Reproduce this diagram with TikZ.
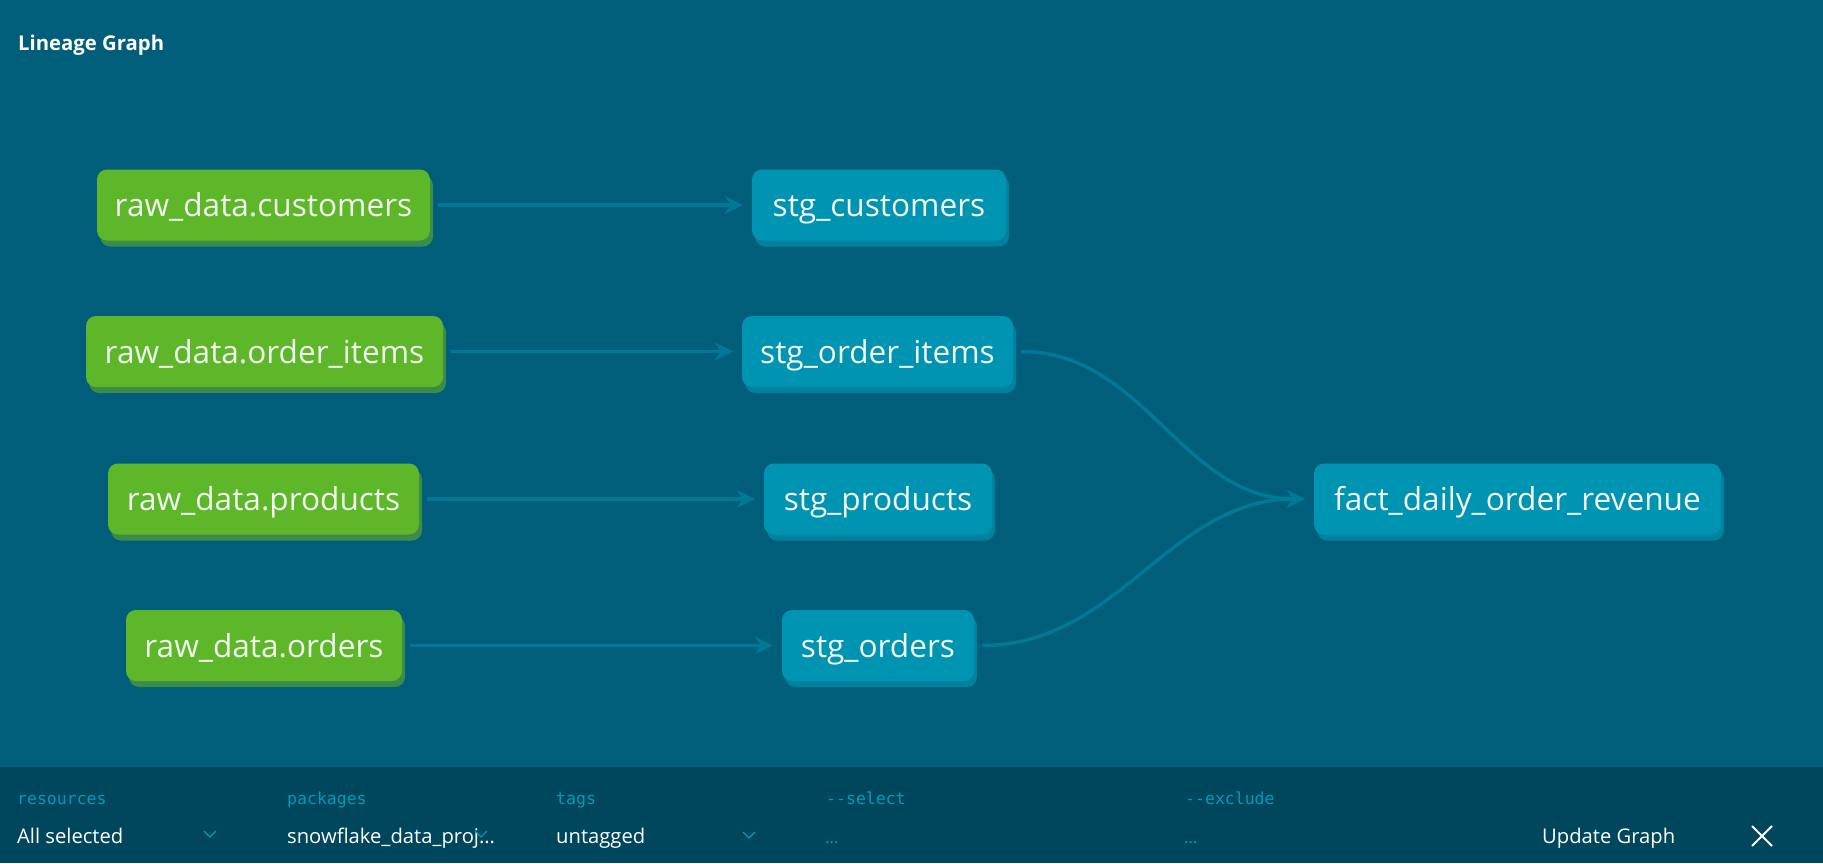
\documentclass[tikz,border=0pt]{standalone}
\usepackage{fontspec}
\setmainfont{Open Sans}
\setmonofont{DejaVu Sans Mono}
\usetikzlibrary{positioning, calc}
\usetikzlibrary{arrows.meta}
\usetikzlibrary{shadows}

\definecolor{bgteal}{HTML}{005E7A}
\definecolor{bardark}{HTML}{00475D}
\definecolor{srcgreen}{HTML}{5EB729}
\definecolor{srcshade}{HTML}{3B8B4A}
\definecolor{mdlblue}{HTML}{0094B3}
\definecolor{mdlshade}{HTML}{00819E}
\definecolor{edgeteal}{HTML}{007898}
\definecolor{lblteal}{HTML}{009BBA}
\definecolor{nodetext}{HTML}{F0F5EF}

\tikzset{
  basenode/.style={rounded corners=10pt, text=nodetext, inner sep=0pt,
    minimum height=71pt, text height=23pt, text depth=0pt,
    font=\fontsize{31.6}{38}\selectfont},
  srcnode/.style={basenode, fill=srcgreen, minimum width=#1,
    general shadow={fill=srcshade, shadow xshift=3pt, shadow yshift=-6pt}},
  mdlnode/.style={basenode, fill=mdlblue, minimum width=#1,
    general shadow={fill=mdlshade, shadow xshift=3pt, shadow yshift=-6pt}},
  edge/.style={draw=edgeteal, line width=3.5pt,
    -{Stealth[length=18pt, width=18pt, inset=6pt]},
    shorten <=8pt, shorten >=9pt},
  barlabel/.style={anchor=base west, inner sep=0pt, text=lblteal,
    font=\ttfamily\fontsize{16.5}{19}\selectfont},
  barvalue/.style={anchor=base west, inner sep=0pt, text=white,
    font=\fontsize{20.2}{24}\selectfont},
  chevron/.style={draw=lblteal, line width=1.2pt}
}

\begin{document}
\begin{tikzpicture}[x=1pt, y=-1pt]
\def\W{1823}
\def\H{863}
\def\barY{767}
\coordinate (NW) at (0,0);
\coordinate (SE) at (\W,\H);

\fill[bgteal] (NW) rectangle (SE);
\useasboundingbox (NW) rectangle (SE);
\fill[bardark] (0,\barY) rectangle (SE);

\node[anchor=base west, inner sep=0pt, text=white,
  font=\bfseries\fontsize{20.3}{24}\selectfont] (title) at (18,50) {Lineage Graph};

\node[srcnode=333] (rawcust)  at (263.5,205)   {raw\_data.customers};
\node[srcnode=357] (rawitems) at (264.5,351.5) {raw\_data.order\_items};
\node[srcnode=311] (rawprod)  at (263.5,499)   {raw\_data.products};
\node[srcnode=276] (raword)   at (264,645.5)   {raw\_data.orders};

\node[mdlnode=254] (stgcust)  at (879,205)     {stg\_customers};
\node[mdlnode=271] (stgitems) at (877.5,351.5) {stg\_order\_items};
\node[mdlnode=228] (stgprod)  at (878,499)     {stg\_products};
\node[mdlnode=192] (stgord)   at (878,645.5)   {stg\_orders};

\node[mdlnode=407] (fact) at (1517.5,499) {fact\_daily\_order\_revenue};

\draw[edge] (rawcust.east)  -- (stgcust.west);
\draw[edge] (rawitems.east) -- (stgitems.west);
\draw[edge] (rawprod.east)  -- (stgprod.west);
\draw[edge] (raword.east)   -- (stgord.west);
\draw[edge] (stgitems.east) to[out=0, in=180] (fact.west);
\draw[edge] (stgord.east)   to[out=0, in=180] (fact.west);

% filter bar
\node[barlabel] (reslbl)  at (17,804)   {resources};
\node[barvalue] (resval)  at (17,843)   {All selected};
\node[barlabel] (pkglbl)  at (287,804)  {packages};
\node[barvalue] (pkgval)  at (287,843)  {snowflake\_data\_proj…};
\node[barlabel] (taglbl)  at (556,804)  {tags};
\node[barvalue] (tagval)  at (556,843)  {untagged};
\node[barlabel] (sellbl)  at (826,804)  {-{}-select};
\node[barlabel, font=\fontsize{17}{19}\selectfont] (selval) at (825,843) {…};
\node[barlabel] (exclbl)  at (1185,804) {-{}-exclude};
\node[barlabel, font=\fontsize{17}{19}\selectfont] (excval) at (1184,843) {…};
\node[barvalue] (update)  at (1542,843) {Update Graph};

\draw[chevron] (204,831) -- (210,837) -- (216,831);
\draw[chevron] (475,831) -- (481,837) -- (487,831);
\draw[chevron] (743,832) -- (749,838) -- (755,832);

\draw[white, line width=2pt] (1752,826) -- (1772,846) (1772,826) -- (1752,846);
\end{tikzpicture}
\end{document}
